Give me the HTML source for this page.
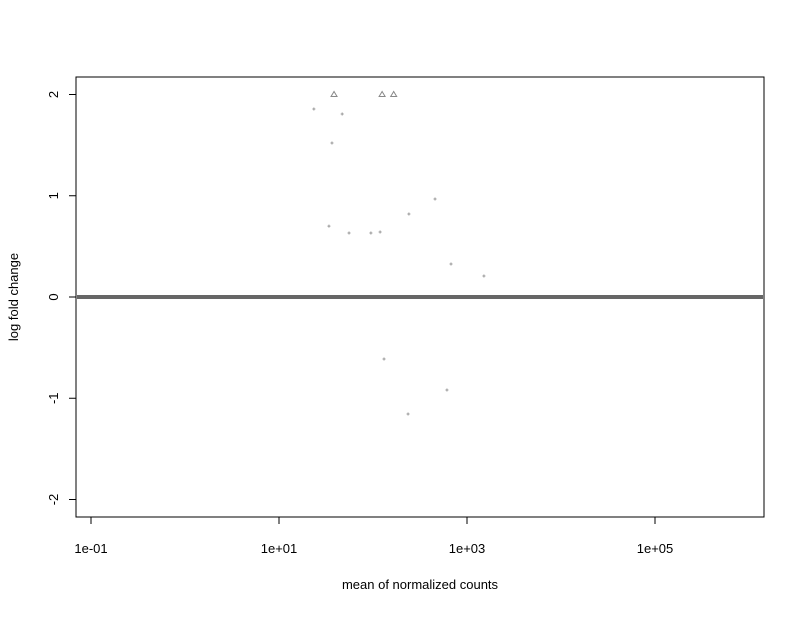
<!DOCTYPE html>
<html><head><meta charset="utf-8"><style>
body{margin:0;background:#fff;}
svg text{font-family:"Liberation Sans",Arial,sans-serif;font-size:13px;fill:#000;}
</style></head><body>
<svg id="chart" width="804" height="614" xmlns="http://www.w3.org/2000/svg">
<rect x="76" y="77" width="688" height="440" fill="none" stroke="#000"/>
<g id="axes"></g>
<g id="marks"></g>
<text x="420" y="589" text-anchor="middle">mean of normalized counts</text>
<text transform="translate(18,297) rotate(-90)" text-anchor="middle">log fold change</text>
</svg>
<script>
const meanCounts = [23.5, 47, 36.6, 457, 241, 34, 55.6, 95, 119, 676, 1514, 131, 612, 236];
const logFC = [1.857, 1.807, 1.521, 0.968, 0.82, 0.70, 0.632, 0.632, 0.642, 0.326, 0.207, -0.612, -0.918, -1.156];
const clippedCounts = [38.5, 125, 166];
const clippedFC = [2, 2, 2];
const xTickVals = [0.1, 10, 1000, 100000];
const xTickLabels = ["1e-01", "1e+01", "1e+03", "1e+05"];
const yTickVals = [-2, -1, 0, 1, 2];

const NS = "http://www.w3.org/2000/svg";
const xs = v => 91 + (Math.log10(v) + 1) * 94;
const ys = v => 297 - v * 101.25;
const axes = document.getElementById('axes');
const marks = document.getElementById('marks');
function mk(tag, attrs, parent){const e=document.createElementNS(NS,tag);for(const k in attrs)e.setAttribute(k,attrs[k]);parent.appendChild(e);return e;}

const xl = mk('line',{x1:xs(xTickVals[0]),x2:xs(xTickVals[xTickVals.length-1]),y1:517,y2:517,stroke:'#000'},axes);


xTickVals.forEach((v,i)=>{
  const t = mk('line',{x1:xs(v),x2:xs(v),y1:517,y2:524,stroke:'#000'},axes);
  
  
  const l = mk('text',{x:xs(v),y:553,'text-anchor':'middle'},axes);
  l.textContent = xTickLabels[i];
  
  
});
const yl = mk('line',{x1:76,x2:76,y1:ys(2),y2:ys(-2),stroke:'#000'},axes);


yTickVals.forEach(v=>{
  const t = mk('line',{x1:69,x2:76,y1:ys(v),y2:ys(v),stroke:'#000'},axes);
  
  
  const l = mk('text',{transform:`translate(58,${ys(v)}) rotate(-90)`,'text-anchor':'middle'},axes);
  l.textContent = String(v);
  
  
});
const zl = mk('line',{x1:77,x2:763,y1:ys(0),y2:ys(0),stroke:'#666','stroke-width':4},marks);


meanCounts.forEach((c,i)=>{
  const x=xs(c), y=ys(logFC[i]);
  const p = mk('path',{d:`M${x-1.5},${y}h3M${x},${y-1.5}v3`,stroke:'#999','stroke-width':1},marks);
  
  
});
clippedCounts.forEach((c,i)=>{
  const x=xs(c), y=ys(clippedFC[i]);
  const p = mk('path',{d:`M${x},${y-3}L${x+3},${y+2}L${x-3},${y+2}Z`,fill:'none',stroke:'#888','stroke-width':1},marks);
  
  
});
</script>
</body></html>
